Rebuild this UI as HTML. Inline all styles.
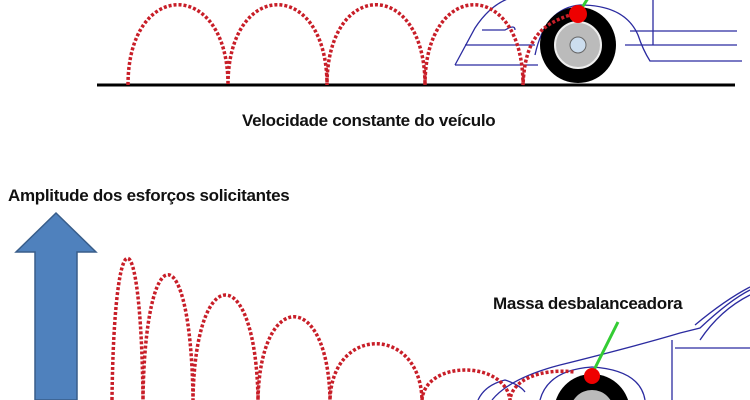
<!DOCTYPE html>
<html><head><style>
html,body{margin:0;width:750px;height:400px;overflow:hidden;background:#fff;font-family:"Liberation Sans",sans-serif}
.t{position:absolute;font-weight:bold;color:#111;white-space:nowrap;letter-spacing:-0.3px}
</style></head><body>
<svg width="750" height="400" style="position:absolute;left:0;top:0;overflow:hidden">
<g fill="none" stroke="#2b2ba0" stroke-width="1.3">
<path d="M455 65 L475 28 Q490 5 510 -2"/>
<path d="M455 65 L538 65"/>
<path d="M465 45 L535 45"/>
<path d="M482 30 L505 30 Q515 24 515 30"/>
<path d="M535 55 Q545 8 580 5 Q625 5 638 35 Q643 50 650 61 L742 61"/>
<path d="M625 45 L737 45 M630 31 L737 31 M653 0 L653 45"/>
<path d="M492 400 Q510 378 560 365 Q640 345 680 333 L700 328 Q730 300 750 290"/>
<path d="M695 325 Q725 300 750 287 M700 340 Q720 310 750 295"/>
<path d="M672 340 L672 400 M675 348 L750 348"/>
<path d="M540 400 Q548 370 592 367 Q640 370 645 400"/>
<path d="M478 400 Q485 385 505 380 Q520 385 525 392"/>
</g>
<line x1="97" y1="85" x2="735" y2="85" stroke="#000" stroke-width="3"/>
<circle cx="578" cy="45" r="38" fill="#000"/>
<circle cx="578" cy="45" r="23" fill="#bbb" stroke="#eee" stroke-width="2"/>
<circle cx="578" cy="45" r="8" fill="#cde" stroke="#666"/>
<line x1="578" y1="14" x2="590" y2="-5" stroke="#3c3" stroke-width="3"/>
<circle cx="578" cy="14" r="9" fill="#e00"/>
<circle cx="592" cy="412" r="38" fill="#000"/>
<circle cx="592" cy="412" r="22" fill="#bbb"/>
<line x1="593" y1="372" x2="618" y2="322" stroke="#3c3" stroke-width="3"/>
<circle cx="592" cy="376" r="8" fill="#e00"/>
<g fill="none" stroke="#c81e28" stroke-width="3.5" stroke-dasharray="3,2">
<path d="M128 85 C128 -22 228 -22 228 85 C228 -22 327 -22 327 85 C327 -22 425 -22 425 85 C425 -22 523 -22 523 85 C525 40 540 25 570 15"/>
<path d="M112 400 C114 211 141 211 143 400 C145 233 191 233 193 400 C195 260 256 260 258 400 C260 289 328 289 330 400 C332 325 420 325 422 400 C425 360 505 360 510 400 C512 380 540 368 575 372"/>
</g>
<path d="M56 213 L96 252 L77 252 L77 400 L35 400 L35 252 L16 252 Z" fill="#4f81bd" stroke="#385d8a" stroke-width="1.5"/>
</svg>
<div class="t" style="left:242px;top:111px;font-size:17px">Velocidade constante do veículo</div>
<div class="t" style="left:8px;top:186px;font-size:17px">Amplitude dos esforços solicitantes</div>
<div class="t" style="left:493px;top:294px;font-size:17px">Massa desbalanceadora</div>
</body></html>
